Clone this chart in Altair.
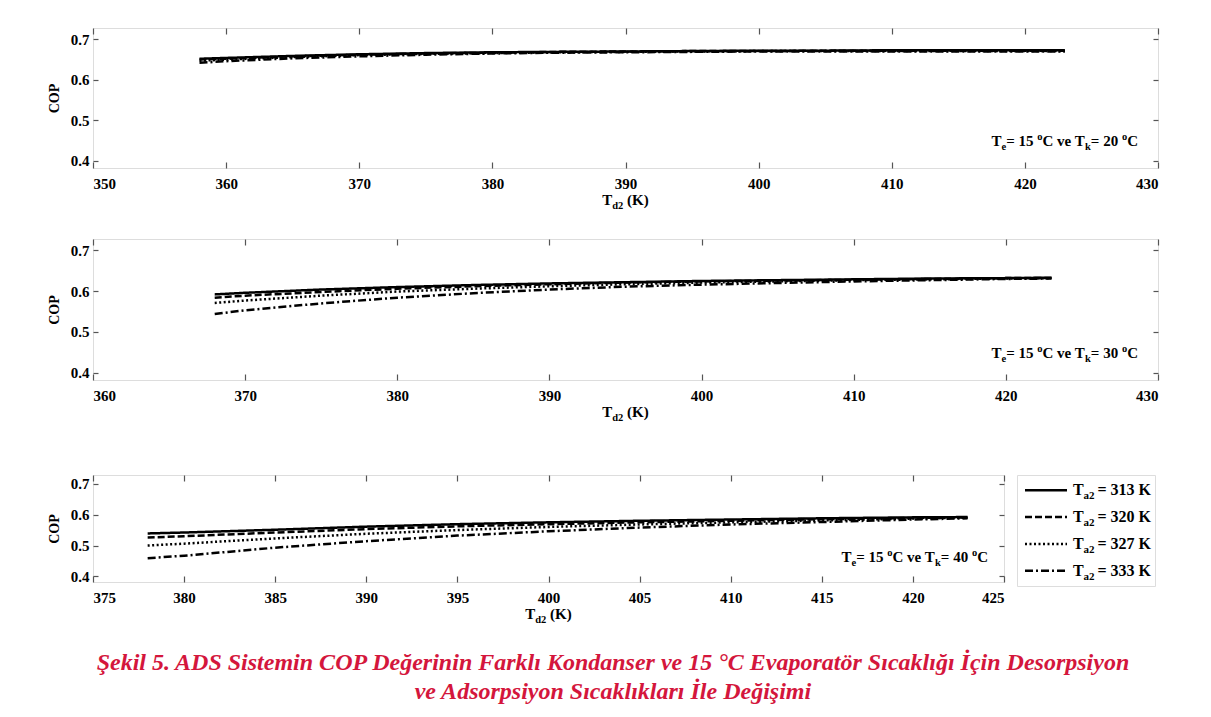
import altair as alt
import pandas as pd

# ---------------- data ----------------
series = ["313", "320", "327", "333"]

# Panel 1: Te = 15 C, Tk = 20 C
x_tk20 = [358, 360, 365, 370, 375, 380, 385, 390, 395, 400, 405, 410, 415, 420, 423]
cop20_313 = [0.652, 0.654, 0.659, 0.663, 0.666, 0.668, 0.669, 0.670, 0.671, 0.672, 0.672, 0.673, 0.673, 0.673, 0.673]
cop20_320 = [0.650, 0.652, 0.658, 0.662, 0.665, 0.667, 0.669, 0.670, 0.671, 0.671, 0.672, 0.672, 0.672, 0.672, 0.672]
cop20_327 = [0.647, 0.650, 0.656, 0.661, 0.664, 0.666, 0.668, 0.669, 0.670, 0.671, 0.671, 0.671, 0.671, 0.671, 0.671]
cop20_333 = [0.642, 0.646, 0.653, 0.658, 0.662, 0.665, 0.667, 0.668, 0.669, 0.670, 0.670, 0.670, 0.670, 0.670, 0.670]

# Panel 2: Te = 15 C, Tk = 30 C
x_tk30 = [368, 370, 375, 380, 385, 390, 395, 400, 405, 410, 415, 420, 423]
cop30_313 = [0.592, 0.596, 0.604, 0.610, 0.615, 0.619, 0.622, 0.625, 0.627, 0.629, 0.631, 0.632, 0.633]
cop30_320 = [0.584, 0.589, 0.598, 0.606, 0.612, 0.617, 0.621, 0.624, 0.626, 0.628, 0.630, 0.632, 0.632]
cop30_327 = [0.571, 0.577, 0.589, 0.599, 0.606, 0.612, 0.617, 0.621, 0.624, 0.627, 0.629, 0.631, 0.632]
cop30_333 = [0.544, 0.553, 0.570, 0.584, 0.595, 0.604, 0.611, 0.616, 0.620, 0.624, 0.627, 0.630, 0.631]

# Panel 3: Te = 15 C, Tk = 40 C
x_tk40 = [378, 380, 385, 390, 395, 400, 405, 410, 415, 420, 423]
cop40_313 = [0.539, 0.542, 0.551, 0.561, 0.569, 0.575, 0.580, 0.584, 0.588, 0.591, 0.592]
cop40_320 = [0.526, 0.530, 0.542, 0.553, 0.562, 0.569, 0.575, 0.580, 0.585, 0.589, 0.591]
cop40_327 = [0.500, 0.506, 0.523, 0.538, 0.550, 0.560, 0.568, 0.575, 0.581, 0.587, 0.590]
cop40_333 = [0.459, 0.467, 0.493, 0.514, 0.532, 0.546, 0.558, 0.568, 0.576, 0.584, 0.588]

x_ticks_1 = [350, 360, 370, 380, 390, 400, 410, 420, 430]
x_ticks_2 = [360, 370, 380, 390, 400, 410, 420, 430]
x_ticks_3 = [375, 380, 385, 390, 395, 400, 405, 410, 415, 420, 425]
y_ticks = [0.4, 0.5, 0.6, 0.7]

caption = [
    "Şekil 5. ADS Sistemin COP Değerinin Farklı Kondanser ve 15 °C Evaporatör Sıcaklığı İçin Desorpsiyon",
    "ve Adsorpsiyon Sıcaklıkları İle Değişimi",
]

# ---------------- styling ----------------
FONT = "Liberation Serif"
BOX = "#c8c8c8"
TICK = "#555555"
dash_range = [[1, 0], [7, 3], [2, 2.5], [8, 3, 2, 3]]


def long_df(xs, cols):
    rows = []
    for s, vals in zip(series, cols):
        for x, v in zip(xs, vals):
            rows.append({"Td2": x, "COP": v, "Ta2": s})
    return pd.DataFrame(rows)


# Times/Liberation Serif Bold advance widths (1/1000 em)
W_BOLD = {" ": 250, "(": 333, ")": 333, "=": 570, ".": 250, "A": 722, "C": 722,
          "K": 778, "T": 667, "a": 500, "d": 556, "e": 444, "k": 556, "o": 500, "v": 500}


def tw(s, size):
    return sum(W_BOLD.get(c, 500) for c in s) * size / 1000.0


def compose(pieces, size, sub_size):
    """return list of (text, dx, dy, fontsize) relative to start, and total width"""
    out = []
    x = 0.0
    for txt, kind in pieces:
        fs = size if kind == "n" else sub_size
        dy = 0 if kind == "n" else (4 if kind == "sub" else -6)
        core = txt.strip()
        lead = len(txt) - len(txt.lstrip())
        trail = len(txt) - len(txt.rstrip())
        x += tw(" " * lead, fs)
        out.append((core, x, dy, fs))
        x += tw(core, fs) + tw(" " * trail, fs)
    return out, x


def text_layers(pieces, size, sub_size, anchor_x, base_y, align):
    parts, total = compose(pieces, size, sub_size)
    if align == "right":
        x0 = anchor_x - total
    elif align == "center":
        x0 = anchor_x - total / 2
    else:
        x0 = anchor_x
    layers = []
    for core, dx, dy, fs in parts:
        layers.append(
            alt.Chart(pd.DataFrame({"t": [core]}))
            .mark_text(align="left", baseline="alphabetic", font=FONT,
                       fontWeight="bold", fontSize=fs, color="black")
            .encode(x=alt.value(x0 + dx), y=alt.value(base_y + dy), text="t:N")
        )
    return layers


def panel(df, xdom, xticks, W, H, tk, ann_right, ann_base):
    xs = alt.Scale(domain=xdom, nice=False, zero=False)
    ys = alt.Scale(domain=[0.382, 0.728], nice=False, zero=False)
    lines = alt.Chart(df).mark_line(color="black", strokeWidth=2.5).encode(
        x=alt.X("Td2:Q", scale=xs,
                axis=alt.Axis(orient="bottom", values=xticks, format="d", title=None,
                              domain=False, grid=False, offset=-6, tickSize=6,
                              tickColor=TICK, tickWidth=1.2, labelPadding=8,
                              labelFont=FONT, labelFontSize=15, labelFontWeight="bold",
                              labelColor="black")),
        y=alt.Y("COP:Q", scale=ys,
                axis=alt.Axis(orient="left", values=y_ticks, format=".1f", title="COP",
                              domain=False, grid=False, offset=-5, tickSize=5,
                              tickColor=TICK, tickWidth=1.2, labelPadding=4,
                              labelFont=FONT, labelFontSize=15, labelFontWeight="bold",
                              labelColor="black", titleFont=FONT, titleFontSize=14,
                              titleFontWeight="bold", titleColor="black", titlePadding=9)),
        strokeDash=alt.StrokeDash("Ta2:N", scale=alt.Scale(domain=series, range=dash_range),
                                  legend=None),
        detail="Ta2:N",
    )
    mirror = alt.Chart(df).mark_point(opacity=0).encode(
        x=alt.X("Td2:Q", scale=xs,
                axis=alt.Axis(orient="top", values=xticks, labels=False, title=None,
                              domain=False, grid=False, offset=-6, tickSize=6,
                              tickColor=TICK, tickWidth=1.2)),
        y=alt.Y("COP:Q", scale=ys,
                axis=alt.Axis(orient="right", values=y_ticks, labels=False, title=None,
                              domain=False, grid=False, offset=-5, tickSize=5,
                              tickColor=TICK, tickWidth=1.2)),
    )
    ann = text_layers(
        [("T", "n"), ("e", "sub"), ("= 15 ", "n"), ("o", "sup"), ("C ve T", "n"),
         ("k", "sub"), (f"= {tk} ", "n"), ("o", "sup"), ("C", "n")],
        15, 10.5, W - ann_right, H - ann_base, "right")
    xtitle = text_layers([("T", "n"), ("d2", "sub"), (" (K)", "n")],
                         15, 10.5, W / 2, H + 37, "center")
    return alt.layer(lines, mirror, *ann, *xtitle).resolve_axis(
        x="independent", y="independent").properties(width=W, height=H)


p1 = panel(long_df(x_tk20, [cop20_313, cop20_320, cop20_327, cop20_333]),
           [350, 430], x_ticks_1, 1065, 140, 20, 20, 22)
p2 = panel(long_df(x_tk30, [cop30_313, cop30_320, cop30_327, cop30_333]),
           [360, 430], x_ticks_2, 1065, 141, 30, 20, 22)
p3 = panel(long_df(x_tk40, [cop40_313, cop40_320, cop40_327, cop40_333]),
           [375, 425], x_ticks_3, 911, 107, 40, 16, 20)

# ---------------- legend (hand built so subscripts can be drawn) ----------------
leg_df = pd.DataFrame({"Ta2": series, "lab": [f"= {s} K" for s in series]})
ly = alt.Y("Ta2:N", scale=alt.Scale(type="point", domain=series, padding=0.57), axis=None)
leg_lines = alt.Chart(leg_df).mark_rule(color="black", strokeWidth=2.5).encode(
    y=ly, x=alt.value(8), x2=alt.value(50),
    strokeDash=alt.StrokeDash("Ta2:N", scale=alt.Scale(domain=series, range=dash_range),
                              legend=None),
)
leg_T = alt.Chart(leg_df).mark_text(align="left", baseline="middle", font=FONT,
                                    fontWeight="bold", fontSize=16, color="black").encode(
    y=ly, x=alt.value(56), text=alt.value("T"))
leg_sub = alt.Chart(leg_df).mark_text(align="left", baseline="middle", font=FONT,
                                      fontWeight="bold", fontSize=11, color="black",
                                      dy=6).encode(
    y=ly, x=alt.value(66.5), text=alt.value("a2"))
leg_lab = alt.Chart(leg_df).mark_text(align="left", baseline="middle", font=FONT,
                                      fontWeight="bold", fontSize=16, color="black").encode(
    y=ly, x=alt.value(80.5), text="lab:N")
legend = alt.layer(leg_lines, leg_T, leg_sub, leg_lab).properties(width=138, height=111)

row3 = alt.hconcat(p3, legend, spacing=10).resolve_scale(strokeDash="independent")
row3 = row3.properties(title=alt.TitleParams(" ", fontSize=8, offset=16))

chart = alt.vconcat(
    p1, p2, row3, spacing=25,
    title=alt.TitleParams(caption, orient="bottom", anchor="middle", font=FONT,
                          fontSize=24, fontStyle="italic", fontWeight="bold",
                          color="#d4163c", lineHeight=29, offset=25, dx=10),
).resolve_scale(strokeDash="independent", x="independent", y="independent").properties(
    padding={"left": 38, "top": 18, "right": 5, "bottom": 5}
).configure_view(stroke=BOX, strokeWidth=1.5).configure(background="white")

chart.save("out.html", embed_options={"renderer": "svg", "actions": False})
